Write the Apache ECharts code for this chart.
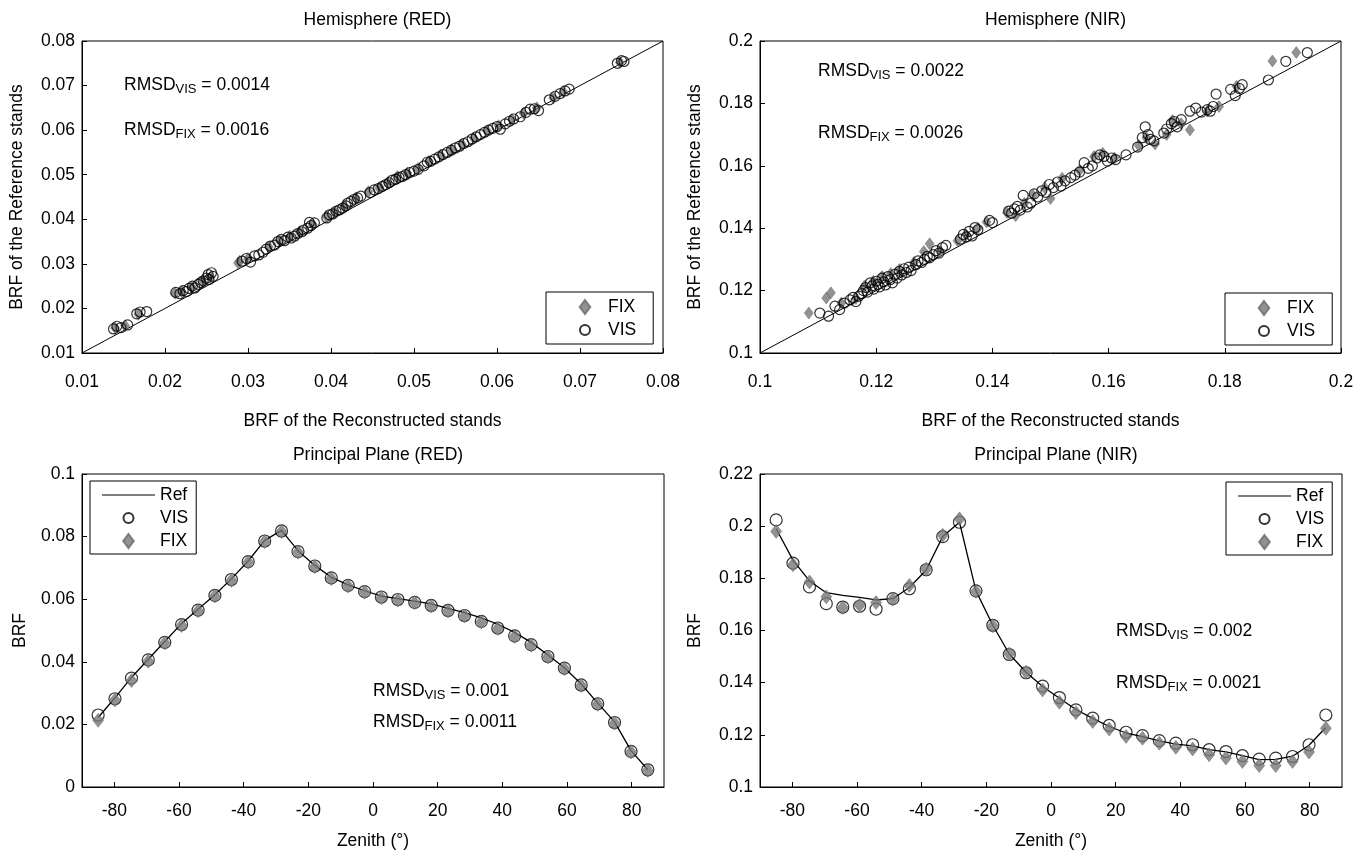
<!DOCTYPE html>
<html>
<head>
<meta charset="utf-8">
<script src="https://cdn.jsdelivr.net/npm/echarts@6.0.0/dist/echarts.min.js"></script>
<style>
  html, body { margin: 0; padding: 0; background: #fff; }
  #chart { width: 1368px; height: 856px; }
</style>
</head>
<body>
<div id="chart"></div>
<script>
// hemisphere (RED): [reconstructed, reference]
const redVis = [
  [0.0138,0.0154],[0.0142,0.0160],[0.0147,0.0157],[0.0155,0.0163],
  [0.0166,0.0188],[0.0170,0.0192],[0.0178,0.0193],
  [0.0213,0.0236],[0.0218,0.0233],[0.0222,0.0240],[0.0226,0.0238],[0.0229,0.0245],[0.0233,0.0250],
  [0.0236,0.0246],[0.0240,0.0254],[0.0243,0.0258],[0.0246,0.0262],[0.0250,0.0268],[0.0253,0.0265],
  [0.0256,0.0280],[0.0258,0.0272],[0.0252,0.0276],
  [0.0293,0.0306],[0.0298,0.0312],[0.0303,0.0304],[0.0308,0.0318],[0.0313,0.0320],[0.0318,0.0326],
  [0.0322,0.0333],[0.0327,0.0340],[0.0332,0.0342],[0.0336,0.0350],[0.0340,0.0355],[0.0344,0.0352],
  [0.0348,0.0360],[0.0352,0.0358],[0.0356,0.0362],[0.0360,0.0368],[0.0365,0.0372],[0.0367,0.0376],
  [0.0372,0.0380],[0.0376,0.0386],[0.0380,0.0392],[0.0374,0.0393],
  [0.0395,0.0403],[0.0398,0.0410],[0.0402,0.0412],[0.0406,0.0418],[0.0410,0.0421],[0.0414,0.0425],
  [0.0418,0.0430],[0.0420,0.0436],[0.0424,0.0440],[0.0428,0.0445],[0.0432,0.0448],[0.0436,0.0452],
  [0.0447,0.0460],[0.0452,0.0466],[0.0457,0.0469],[0.0462,0.0474],[0.0466,0.0478],[0.0470,0.0482],
  [0.0474,0.0488],[0.0478,0.0490],[0.0482,0.0494],[0.0486,0.0496],[0.0490,0.0500],[0.0495,0.0505],
  [0.0500,0.0508],[0.0505,0.0512],
  [0.0512,0.0520],[0.0516,0.0528],[0.0520,0.0530],[0.0525,0.0535],[0.0530,0.0540],[0.0535,0.0545],
  [0.0540,0.0550],[0.0545,0.0555],[0.0550,0.0560],[0.0555,0.0564],[0.0560,0.0570],[0.0565,0.0574],
  [0.0570,0.0580],[0.0575,0.0585],[0.0580,0.0590],[0.0585,0.0595],[0.0590,0.0600],[0.0595,0.0604],
  [0.0600,0.0608],[0.0604,0.0602],
  [0.0610,0.0614],[0.0615,0.0620],[0.0620,0.0625],[0.0628,0.0630],[0.0635,0.0640],[0.0640,0.0647],
  [0.0645,0.0648],[0.0650,0.0644],
  [0.0663,0.0668],[0.0670,0.0676],[0.0676,0.0682],[0.0682,0.0688],[0.0687,0.0692],
  [0.0745,0.0750],[0.0750,0.0756],[0.0753,0.0754]
];
const redFix = [
  [0.0140,0.0156],[0.0152,0.0161],[0.0168,0.0187],[0.0212,0.0234],[0.0220,0.0238],[0.0232,0.0248],
  [0.0245,0.0260],[0.0255,0.0270],[0.0288,0.0302],[0.0290,0.0306],[0.0300,0.0312],[0.0325,0.0338],
  [0.0338,0.0352],[0.0350,0.0362],[0.0362,0.0372],[0.0378,0.0388],[0.0395,0.0405],[0.0405,0.0416],
  [0.0416,0.0428],[0.0430,0.0448],[0.0445,0.0462],[0.0458,0.0470],[0.0468,0.0482],[0.0480,0.0496],
  [0.0492,0.0504],[0.0505,0.0514],[0.0518,0.0530],[0.0532,0.0544],[0.0545,0.0556],[0.0558,0.0568],
  [0.0572,0.0582],[0.0588,0.0598],[0.0602,0.0610],[0.0618,0.0624],[0.0632,0.0638],[0.0648,0.0650],
  [0.0668,0.0672],[0.0680,0.0686],[0.0748,0.0752]
];

// hemisphere (NIR)
const nirVis = [
  [0.1103,0.1128],[0.1118,0.1118],[0.1129,0.1150],[0.1137,0.1139],[0.1145,0.1160],
  [0.1155,0.1170],[0.1160,0.1178],[0.1165,0.1165],[0.1170,0.1182],[0.1175,0.1190],[0.1178,0.1200],
  [0.1182,0.1210],[0.1185,0.1195],[0.1190,0.1225],[0.1193,0.1215],[0.1196,0.1205],[0.1200,0.1230],
  [0.1203,0.1220],[0.1206,0.1212],[0.1210,0.1240],[0.1213,0.1228],[0.1216,0.1218],[0.1220,0.1245],
  [0.1224,0.1235],[0.1228,0.1225],[0.1232,0.1252],[0.1236,0.1240],[0.1240,0.1262],[0.1244,0.1250],
  [0.1248,0.1270],[0.1252,0.1258],[0.1256,0.1275],[0.1260,0.1264],
  [0.1268,0.1283],[0.1272,0.1295],[0.1278,0.1290],[0.1283,0.1300],[0.1288,0.1310],[0.1292,0.1305],
  [0.1298,0.1315],[0.1303,0.1328],[0.1308,0.1320],[0.1314,0.1338],[0.1320,0.1345],
  [0.1345,0.1365],[0.1350,0.1380],[0.1355,0.1372],[0.1360,0.1390],[0.1365,0.1375],[0.1370,0.1402],
  [0.1375,0.1395],[0.1395,0.1425],[0.1400,0.1418],
  [0.1428,0.1455],[0.1433,0.1448],[0.1438,0.1462],[0.1443,0.1470],[0.1448,0.1458],[0.1453,0.1505],
  [0.1460,0.1468],[0.1466,0.1480],
  [0.1472,0.1510],[0.1478,0.1500],[0.1485,0.1520],[0.1492,0.1515],[0.1498,0.1540],[0.1505,0.1530],
  [0.1512,0.1548],[0.1518,0.1535],[0.1525,0.1552],[0.1535,0.1562],[0.1542,0.1570],
  [0.1550,0.1580],[0.1558,0.1610],[0.1565,0.1592],[0.1572,0.1600],[0.1580,0.1625],[0.1585,0.1635],
  [0.1592,0.1630],[0.1598,0.1615],[0.1605,0.1625],[0.1612,0.1620],[0.1630,0.1635],
  [0.1650,0.1660],[0.1658,0.1690],[0.1663,0.1725],[0.1668,0.1700],[0.1672,0.1685],[0.1678,0.1680],
  [0.1695,0.1705],[0.1700,0.1718],[0.1708,0.1735],[0.1713,0.1742],[0.1718,0.1725],[0.1725,0.1748],
  [0.1740,0.1775],[0.1750,0.1785],[0.1760,0.1772],[0.1770,0.1780],[0.1775,0.1775],[0.1780,0.1790],
  [0.1785,0.1830],
  [0.1810,0.1845],[0.1818,0.1825],[0.1825,0.1848],[0.1830,0.1860],
  [0.1875,0.1875],[0.1905,0.1935],[0.1942,0.1963]
];
const nirFix = [
  [0.1084,0.1128],[0.1114,0.1176],[0.1122,0.1193],[0.1140,0.1160],[0.1165,0.1175],[0.1180,0.1215],
  [0.1195,0.1230],[0.1210,0.1245],[0.1225,0.1255],[0.1240,0.1268],[0.1265,0.1290],[0.1282,0.1325],
  [0.1292,0.1350],[0.1310,0.1325],[0.1340,0.1360],[0.1355,0.1378],[0.1375,0.1400],[0.1390,0.1420],
  [0.1425,0.1450],[0.1440,0.1440],[0.1455,0.1480],[0.1470,0.1505],[0.1490,0.1530],[0.1500,0.1495],
  [0.1520,0.1560],[0.1550,0.1585],[0.1575,0.1630],[0.1590,0.1640],[0.1610,0.1625],[0.1652,0.1665],
  [0.1665,0.1690],[0.1680,0.1670],[0.1700,0.1700],[0.1710,0.1745],[0.1725,0.1735],[0.1740,0.1715],
  [0.1770,0.1775],[0.1790,0.1790],[0.1820,0.1855],[0.1882,0.1936],[0.1923,0.1963]
];

// 1:1 lines
const redDiag = [[0.01, 0.01], [0.08, 0.08]];
const nirDiag = [[0.1, 0.1], [0.2, 0.2]];

// principal plane, zenith angle (deg)
const zenith = [-85,-79.8,-74.7,-69.5,-64.4,-59.2,-54.1,-48.9,-43.8,-38.6,-33.5,-28.3,-23.2,-18,-12.9,-7.7,-2.6,
  2.6,7.7,12.9,18,23.2,28.3,33.5,38.6,43.8,48.9,54.1,59.2,64.4,69.5,74.7,79.8,85];

const ppRedRef = [0.0222,0.0285,0.0350,0.0408,0.0465,0.0522,0.0568,0.0614,0.0665,0.0722,0.0788,0.0820,0.0755,0.0708,
  0.0670,0.0646,0.0627,0.0610,0.0602,0.0594,0.0585,0.0571,0.0557,0.0540,0.0520,0.0494,0.0462,0.0422,0.0381,0.0329,
  0.0268,0.0208,0.0116,0.0055];
const ppRedVis = [0.0230,0.0282,0.0348,0.0406,0.0462,0.0519,0.0565,0.0612,0.0663,0.0720,0.0786,0.0818,0.0752,0.0706,
  0.0668,0.0644,0.0624,0.0607,0.0599,0.0590,0.0580,0.0564,0.0548,0.0529,0.0508,0.0483,0.0455,0.0417,0.0380,0.0326,
  0.0266,0.0206,0.0114,0.0055];
const ppRedFix = [0.0213,0.0278,0.0340,0.0402,0.0460,0.0516,0.0563,0.0610,0.0660,0.0718,0.0784,0.0816,0.0750,0.0704,
  0.0666,0.0642,0.0622,0.0605,0.0597,0.0589,0.0578,0.0562,0.0546,0.0527,0.0506,0.0481,0.0453,0.0415,0.0378,0.0324,
  0.0264,0.0204,0.0112,0.0053];

const ppNirRef = [0.1990,0.1870,0.1790,0.1745,0.1735,0.1727,0.1717,0.1722,0.1765,0.1832,0.1960,0.2015,0.1752,0.1620,
  0.1510,0.1440,0.1385,0.1340,0.1297,0.1263,0.1232,0.1207,0.1193,0.1177,0.1164,0.1158,0.1143,0.1135,0.1120,0.1105,
  0.1106,0.1118,0.1160,0.1228];
const ppNirVis = [0.2024,0.1858,0.1767,0.1703,0.1690,0.1693,0.1682,0.1722,0.1760,0.1833,0.1960,0.2015,0.1752,0.1620,
  0.1508,0.1438,0.1387,0.1343,0.1296,0.1264,0.1236,0.1210,0.1197,0.1178,0.1168,0.1162,0.1143,0.1136,0.1120,0.1107,
  0.1111,0.1117,0.1162,0.1276];
const ppNirFix = [0.1980,0.1852,0.1786,0.1729,0.1688,0.1697,0.1707,0.1720,0.1773,0.1835,0.1965,0.2028,0.1750,0.1618,
  0.1510,0.1440,0.1372,0.1325,0.1285,0.1251,0.1222,0.1194,0.1187,0.1168,0.1152,0.1146,0.1124,0.1111,0.1098,0.1082,
  0.1082,0.1098,0.1134,0.1225];

const zenithTicks = [-80, -60, -40, -20, 0, 20, 40, 60, 80];

const panelTitles = ['Hemisphere (RED)', 'Hemisphere (NIR)', 'Principal Plane (RED)', 'Principal Plane (NIR)'];
const rmsdVis = ['0.0014', '0.0022', '0.001', '0.002'];
const rmsdFix = ['0.0016', '0.0026', '0.0011', '0.0021'];

const FONT = 'Liberation Sans, Arial, sans-serif';
const FS = 17.5;
const GREY = '#777777';

// legend icons (keep aspect, small margin box)
const ICON_DIAMOND = 'path://M0,0 M12,14 M6,0 L11.3,7 L6,14 L0.7,7 Z';
const ICON_CIRCLE = 'path://M0,0 M14,14 M12,7 A5,5 0 1 1 2,7 A5,5 0 1 1 12,7 Z';
const ICON_LINE = 'path://M0,0 M53,14 M0,6.4 L53,6.4 L53,7.6 L0,7.6 Z';

const chart = echarts.init(document.getElementById('chart'));

const grids = [
  { left: 82, top: 41, width: 581, height: 312 },
  { left: 760, top: 41, width: 581, height: 312 },
  { left: 82, top: 474, width: 582, height: 313 },
  { left: 760, top: 474, width: 582, height: 313 }
];

const fmt = v => String(+v.toFixed(4));

function xAx(i, opt) {
  return Object.assign({
    type: 'value', gridIndex: i,
    nameLocation: 'middle',
    nameTextStyle: { fontFamily: FONT, fontSize: FS, color: '#000' },
    axisLine: { show: true, onZero: false, lineStyle: { color: '#000', width: 1 } },
    axisTick: { show: true, inside: true, length: 5, lineStyle: { color: '#000' } },
    axisLabel: { fontFamily: FONT, fontSize: FS, color: '#000', margin: 20, formatter: fmt },
    splitLine: { show: false }
  }, opt);
}
function yAx(i, opt) {
  return Object.assign({
    type: 'value', gridIndex: i,
    nameLocation: 'middle', nameRotate: 90,
    nameTextStyle: { fontFamily: FONT, fontSize: FS, color: '#000' },
    axisLine: { show: true, onZero: false, lineStyle: { color: '#000', width: 1 } },
    axisTick: { show: true, inside: true, length: 5, lineStyle: { color: '#000' } },
    axisLabel: { fontFamily: FONT, fontSize: FS, color: '#000', margin: 7, formatter: fmt, padding: [6, 0, 0, 0] },
    splitLine: { show: false }
  }, opt);
}

const circle = (size) => ({
  symbol: 'circle', symbolSize: size,
  itemStyle: { color: 'rgba(255,255,255,0)', borderColor: '#000', borderWidth: 1.2 }
});
const diamond = (size) => ({
  symbol: 'diamond', symbolSize: size,
  itemStyle: { color: GREY, borderColor: '#6a6a6a', borderWidth: 0.6 }
});

const zip = (xs, ys) => xs.map((x, k) => [x, ys[k]]);

const series = [
  // hemisphere RED
  { name: 'diag', type: 'line', xAxisIndex: 0, yAxisIndex: 0, data: redDiag, symbol: 'none', silent: true,
    lineStyle: { color: '#000', width: 1 }, z: 1 },
  Object.assign({ name: 'FIX', type: 'scatter', xAxisIndex: 0, yAxisIndex: 0, data: redFix, z: 2 }, diamond([9, 12])),
  Object.assign({ name: 'VIS', type: 'scatter', xAxisIndex: 0, yAxisIndex: 0, data: redVis, z: 3 }, circle(10)),
  // hemisphere NIR
  { name: 'diag', type: 'line', xAxisIndex: 1, yAxisIndex: 1, data: nirDiag, symbol: 'none', silent: true,
    lineStyle: { color: '#000', width: 1 }, z: 1 },
  Object.assign({ name: 'FIX', type: 'scatter', xAxisIndex: 1, yAxisIndex: 1, data: nirFix, z: 2 }, diamond([9, 12])),
  Object.assign({ name: 'VIS', type: 'scatter', xAxisIndex: 1, yAxisIndex: 1, data: nirVis, z: 3 }, circle(10)),
  // principal plane RED
  { name: 'Ref', type: 'line', xAxisIndex: 2, yAxisIndex: 2, data: zip(zenith, ppRedRef), symbol: 'none',
    lineStyle: { color: '#000', width: 1.3 }, itemStyle: { color: '#000' }, z: 1 },
  Object.assign({ name: 'VIS', type: 'scatter', xAxisIndex: 2, yAxisIndex: 2, data: zip(zenith, ppRedVis), z: 2 }, circle(12)),
  Object.assign({ name: 'FIX', type: 'scatter', xAxisIndex: 2, yAxisIndex: 2, data: zip(zenith, ppRedFix), z: 3 }, diamond([11, 14])),
  // principal plane NIR
  { name: 'Ref', type: 'line', xAxisIndex: 3, yAxisIndex: 3, data: zip(zenith, ppNirRef), symbol: 'none',
    lineStyle: { color: '#000', width: 1.3 }, itemStyle: { color: '#000' }, z: 1 },
  Object.assign({ name: 'VIS', type: 'scatter', xAxisIndex: 3, yAxisIndex: 3, data: zip(zenith, ppNirVis), z: 2 }, circle(12)),
  Object.assign({ name: 'FIX', type: 'scatter', xAxisIndex: 3, yAxisIndex: 3, data: zip(zenith, ppNirFix), z: 3 }, diamond([11, 14]))
];

const legendBase = {
  orient: 'vertical', itemGap: 5, itemHeight: 14, symbolKeepAspect: true,
  borderColor: '#000', borderWidth: 1, backgroundColor: '#fff',
  textStyle: { fontFamily: FONT, fontSize: FS, color: '#000' },
  selectedMode: false
};
const hemiLegendData = [{ name: 'FIX', icon: ICON_DIAMOND }, { name: 'VIS', icon: ICON_CIRCLE }];
const ppLegendData = [{ name: 'Ref', icon: ICON_LINE }, { name: 'VIS', icon: ICON_CIRCLE }, { name: 'FIX', icon: ICON_DIAMOND }];

function rmsdText(x, y, sub, val) {
  return {
    type: 'text', x: x, y: y, z: 100,
    style: {
      text: '{m|RMSD}{s|' + sub + '}{m| = ' + val + '}',
      fill: '#000',
      rich: {
        m: { fontFamily: FONT, fontSize: FS, lineHeight: 20, verticalAlign: 'top', fill: '#000' },
        s: { fontFamily: FONT, fontSize: 13, lineHeight: 14, padding: [10, 0, 0, 0], verticalAlign: 'bottom', fill: '#000' }
      }
    }
  };
}

const option = {
  animation: false,
  backgroundColor: '#fff',
  title: panelTitles.map((t, i) => ({
    text: t,
    left: grids[i].left + grids[i].width / 2,
    top: i < 2 ? 6 : 441,
    textAlign: 'center',
    textStyle: { fontFamily: FONT, fontSize: FS, fontWeight: 'normal', color: '#000' }
  })),
  grid: grids.map(g => Object.assign({ show: true, borderColor: '#000', borderWidth: 1, containLabel: false }, g)),
  xAxis: [
    xAx(0, { min: 0.01, max: 0.08, interval: 0.01, name: 'BRF of the Reconstructed stands', nameGap: 59 }),
    xAx(1, { min: 0.1, max: 0.2, interval: 0.02, name: 'BRF of the Reconstructed stands', nameGap: 59 }),
    xAx(2, { min: -90, max: 90, name: 'Zenith (°)', nameGap: 45,
      axisTick: { show: true, inside: true, length: 5, lineStyle: { color: '#000' }, customValues: zenithTicks },
      axisLabel: { fontFamily: FONT, fontSize: FS, color: '#000', margin: 15, customValues: zenithTicks } }),
    xAx(3, { min: -90, max: 90, name: 'Zenith (°)', nameGap: 45,
      axisTick: { show: true, inside: true, length: 5, lineStyle: { color: '#000' }, customValues: zenithTicks },
      axisLabel: { fontFamily: FONT, fontSize: FS, color: '#000', margin: 15, customValues: zenithTicks } })
  ],
  yAxis: [
    yAx(0, { min: 0.01, max: 0.08, interval: 0.01, name: 'BRF of the Reference stands', nameGap: 56 }),
    yAx(1, { min: 0.1, max: 0.2, interval: 0.02, name: 'BRF of the Reference stands', nameGap: 56 }),
    yAx(2, { min: 0, max: 0.1, interval: 0.02, name: 'BRF', nameGap: 53 }),
    yAx(3, { min: 0.1, max: 0.22, interval: 0.02, name: 'BRF', nameGap: 56 })
  ],
  legend: [
    Object.assign({}, legendBase, { data: hemiLegendData, left: 546, top: 292, itemWidth: 36, padding: [6, 17, 5, 31] }),
    Object.assign({}, legendBase, { data: hemiLegendData, left: 1225, top: 293, itemWidth: 36, padding: [6, 17, 5, 31] }),
    Object.assign({}, legendBase, { data: ppLegendData, left: 90, top: 481, itemWidth: 53, padding: [5, 8, 4, 12] }),
    Object.assign({}, legendBase, { data: ppLegendData, left: 1226, top: 482, itemWidth: 53, padding: [5, 8, 4, 12] })
  ],
  graphic: [
    rmsdText(124, 76, 'VIS', rmsdVis[0]),
    rmsdText(124, 121, 'FIX', rmsdFix[0]),
    rmsdText(818, 62, 'VIS', rmsdVis[1]),
    rmsdText(818, 124, 'FIX', rmsdFix[1]),
    rmsdText(373, 682, 'VIS', rmsdVis[2]),
    rmsdText(373, 713, 'FIX', rmsdFix[2]),
    rmsdText(1116, 622, 'VIS', rmsdVis[3]),
    rmsdText(1116, 674, 'FIX', rmsdFix[3])
  ],
  series: series
};

chart.setOption(option);
</script>
</body>
</html>
